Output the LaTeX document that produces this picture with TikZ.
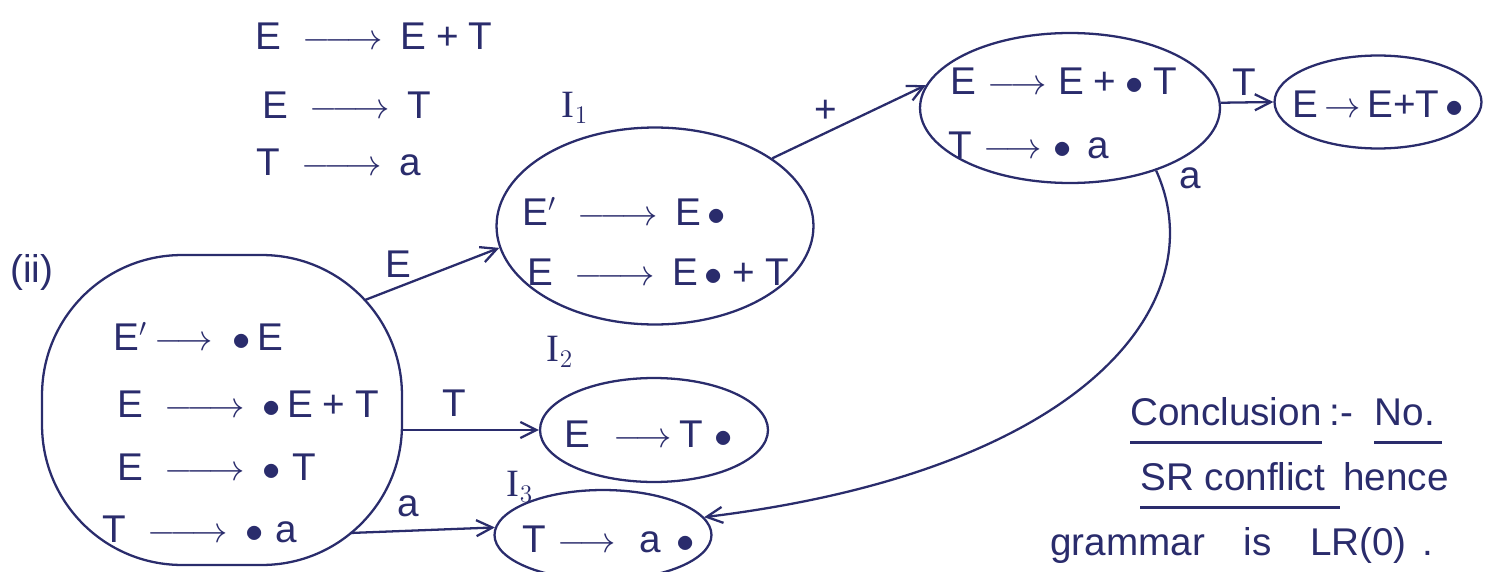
\documentclass[tikz,border=0pt]{standalone}
\usepackage{fontspec}
\setmainfont{Liberation Sans}
\newfontfamily\serifI{Liberation Serif}
\usetikzlibrary{shapes.geometric,arrows.meta}
\definecolor{ink}{RGB}{42,44,108}
\newcommand{\lto}{\hspace{0.55em}\ensuremath{\relbar\joinrel\relbar\joinrel\rightarrow}\hspace{0.45em}}
\newcommand{\mto}{\hspace{0.2em}\ensuremath{\longrightarrow}\hspace{0.5em}}
\newcommand{\kto}{\hspace{0.3em}\ensuremath{\longrightarrow}\hspace{0.3em}}
\newcommand{\sto}{\ensuremath{\rightarrow}}
\newcommand{\dotm}{\ensuremath{\bullet}}
\newcommand{\pl}{\hspace{0.25em}+\hspace{0.25em}}
\newcommand{\setI}[1]{{\serifI I}$_{#1}$}
\tikzset{
  state/.style={draw=ink, line width=1.3pt, ellipse, inner sep=0pt},
  item/.style={text=ink, anchor=base west, inner sep=0pt, font=\fontsize{22}{26}\selectfont},
  lbl/.style={text=ink, inner sep=1pt, font=\fontsize{22}{26}\selectfont},
  edge/.style={draw=ink, line width=1.3pt, -{Straight Barb[length=3.2mm,width=3.2mm]}},
  uline/.style={draw=ink, line width=1.3pt},
}
\begin{document}
\begin{tikzpicture}[x=0.02cm,y=-0.02cm]
\useasboundingbox (0,0) rectangle (1490,571);
% grammar
\node[item] (g1) at (255,50) {E\lto E\pl T};
\node[item] (g2) at (262,118) {E\lto T};
\node[item] (g3) at (256,175) {T\lto a};
\node[item] (ii) at (10,282) {(ii)};
% states
\node[draw=ink, line width=1.3pt, rectangle, rounded corners=2.8cm, minimum width=7.2cm, minimum height=6.2cm, inner sep=0pt] (I0) at (222,410) {};
\coordinate (s0e) at (365,300);
\coordinate (s0t) at (402,430);
\coordinate (s0a) at (350,533);
\node[item] (i0a) at (113,350) {E$'$\mto \dotm\,E};
\node[item] (i0b) at (117,417) {E\lto \dotm\,E\pl T};
\node[item] (i0c) at (117,480) {E\lto \dotm\hspace{0.3em}T};
\node[item] (i0d) at (102,542) {T\lto \dotm\hspace{0.3em}a};

\node[state, minimum width=6.34cm, minimum height=3.94cm] (I1) at (655,226) {};
\node[item] (i1a) at (522,225) {E$'$\lto E\,\dotm};
\node[item] (i1b) at (527,285) {E\lto E\,\dotm\pl T};
\node[lbl] (l1) at (575,108) {\setI{1}};

\node[state, minimum width=6.0cm, minimum height=3.0cm] (I4) at (1070,108) {};
\node[item] (i4a) at (950,94) {E\kto E\pl\dotm\hspace{0.25em}T};
\node[item] (i4b) at (948,158) {T\kto \dotm\hspace{0.4em}a};

\node[state, minimum width=4.14cm, minimum height=1.86cm] (I5) at (1378,102) {};
\node[lbl] (i5a) at (1378,104) {E\,\sto\,E+T\,\dotm};

\node[state, minimum width=4.56cm, minimum height=2.08cm] (I2) at (654,430) {};
\node[item] (i2a) at (564,447) {E\hspace{0.6em}$\longrightarrow$\hspace{0.2em}T\hspace{0.3em}\dotm};
\node[lbl] (l2) at (560,352) {\setI{2}};

\node[state, minimum width=4.34cm, minimum height=1.8cm] (I3) at (603,535) {};
\node[item] (i3a) at (522,552) {T\kto\hspace{0.3em}a\hspace{0.4em}\dotm};
\node[lbl] (l3) at (520,487) {\setI{3}};

% edges
\draw[edge] (s0e) -- node[lbl, pos=0.25, above=4pt] {E} (I1.188);
\draw[edge] (I1.30) -- node[lbl, pos=0.35, above=4pt] {+} (I4.171);
\draw[edge] (I4.2) -- node[lbl, pos=0.45, above=2pt] {T} (I5.west);
\draw[edge] (s0t) -- node[lbl, pos=0.38, above=6pt] {T} (I2.west);
\draw[edge] (s0a) -- node[lbl, pos=0.4, above=6pt] {a} (I3.176);
\draw[edge] (I4.-36) .. controls (1215,300) and (1090,470) .. node[lbl, pos=0.02, right=10pt] {a} (I3.10);

% conclusion
\node[item] (c1a) at (1130,425) {Conclusion};
\node[item, anchor=base west] (c1b) at ([xshift=4pt]c1a.base east) {:-};
\node[item, anchor=base west] (c1c) at ([xshift=12pt]c1b.base east) {No.};
\draw[uline] ([yshift=-10pt]c1a.base west) -- ([yshift=-10pt]c1a.base east);
\draw[uline] ([yshift=-10pt]c1c.base west) -- ([yshift=-10pt,xshift=4pt]c1c.base east);
\node[item] (c2a) at (1140,490) {SR conflict};
\node[item, anchor=base west] (c2b) at ([xshift=10pt]c2a.base east) {hence};
\draw[uline] ([yshift=-10pt]c2a.base west) -- ([yshift=-10pt,xshift=8pt]c2a.base east);
\node[item] (c3) at (1050,555) {grammar\hspace{1em}is\hspace{1em}LR(0)\hspace{0.4em}.};
\end{tikzpicture}
\end{document}
